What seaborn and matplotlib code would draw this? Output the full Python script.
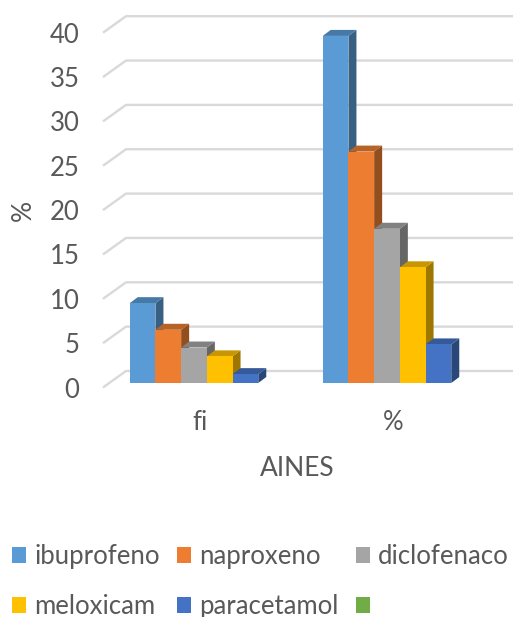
import matplotlib
matplotlib.use("Agg")
import matplotlib.pyplot as plt
import seaborn as sns
import pandas as pd
import numpy as np
from matplotlib.patches import Polygon, Patch
from matplotlib.colors import to_rgb

# ---- data -------------------------------------------------------------
categories = ["fi", "%"]
farmacos = ["ibuprofeno", "naproxeno", "diclofenaco", "meloxicam", "paracetamol"]
fi_values = [9, 6, 4, 3, 1]
pct_values = [39.13, 26.09, 17.39, 13.04, 4.35]
colors = ["#5B9BD5", "#ED7D31", "#A5A5A5", "#FFC000", "#4472C4"]
legend_labels = farmacos + [""]
legend_colors = colors + ["#70AD47"]
y_ticks = [0, 5, 10, 15, 20, 25, 30, 35, 40]
x_title = "AINES"
y_title = "%"

df = pd.DataFrame({
    "categoria": np.repeat(categories, len(farmacos)),
    "farmaco": farmacos * len(categories),
    "valor": fi_values + pct_values,
})

sns.set_theme(style="white")
plt.rcParams["font.family"] = ["Lato", "DejaVu Sans"]
TEXT = "#595959"
GRID = "#D9D9D9"
FS = 18.5

# ---- layout (pixels) ----------------------------------------------------
W, H = 513, 617
fig = plt.figure(figsize=(W / 100, H / 100), dpi=100)

PX_PER_UNIT = 8.87          # vertical scale
ZERO_PX = 383               # y pixel (from top) of value 0 on the bar faces
YMIN, YMAX = -1.0, 41.0
ax_left_px, ax_right_px = 103, 513
bottom_px = ZERO_PX - YMIN * PX_PER_UNIT
top_px = ZERO_PX - YMAX * PX_PER_UNIT
ax = fig.add_axes([ax_left_px / W, (H - bottom_px) / H,
                   (ax_right_px - ax_left_px) / W, (bottom_px - top_px) / H])

GROUP_PX = 193              # distance between category centres
FIRST_CENTER_PX = 194
x0_lim = -(FIRST_CENTER_PX - ax_left_px) / GROUP_PX
x1_lim = x0_lim + (ax_right_px - ax_left_px) / GROUP_PX

sns.barplot(data=df, x="categoria", y="valor", hue="farmaco",
            order=categories, hue_order=farmacos, palette=colors,
            width=0.666, saturation=1, errorbar=None, legend=False,
            linewidth=0, ax=ax)

ax.set_xlim(x0_lim, x1_lim)
ax.set_ylim(YMIN, YMAX)
px_x = (x1_lim - x0_lim) / (ax_right_px - ax_left_px)
px_y = 1.0 / PX_PER_UNIT

# ---- back wall gridlines with oblique floor ends ----------------------
BACK_DX, BACK_UP, FRONT_DOWN = 23, 12, 4.5
for v in y_ticks:
    xb = x0_lim + BACK_DX * px_x
    yb = v + BACK_UP * px_y
    yf = v - FRONT_DOWN * px_y
    ax.plot([x0_lim, xb, x1_lim], [yf, yb, yb], color=GRID, lw=1.7,
            solid_capstyle="butt", clip_on=False, zorder=1)

# ---- 3D depth faces for each bar -------------------------------------
DEPTH_DX, DEPTH_DY = 8, 6
ddx, ddy = DEPTH_DX * px_x, DEPTH_DY * px_y
bars = sorted([p for p in ax.patches if p.get_height() > 0], key=lambda p: p.get_x())
for i, p in enumerate(bars):
    bx, bw, bh = p.get_x(), p.get_width(), p.get_height()
    base = np.array(to_rgb(p.get_facecolor()))
    side = Polygon([(bx + bw, 0), (bx + bw, bh), (bx + bw + ddx, bh + ddy), (bx + bw + ddx, ddy)],
                   closed=True, facecolor=base * 0.62, edgecolor="none", zorder=3 + 3 * i)
    top = Polygon([(bx, bh), (bx + bw, bh), (bx + bw + ddx, bh + ddy), (bx + ddx, bh + ddy)],
                  closed=True, facecolor=base * 0.78, edgecolor="none", zorder=4 + 3 * i)
    ax.add_patch(side)
    ax.add_patch(top)
    p.set_zorder(5 + 3 * i)
    p.set_clip_on(False)
    side.set_clip_on(False)
    top.set_clip_on(False)

# ---- axes, ticks and titles --------------------------------------------
for s in ax.spines.values():
    s.set_visible(False)
ax.set_yticks([])
ax.set_xticks([])

yoff = FRONT_DOWN * px_y
sec_y = ax.secondary_yaxis("left", functions=(lambda y: y + yoff, lambda y: y - yoff))
sec_y.set_yticks(y_ticks)
sec_y.tick_params(length=0, pad=17, labelsize=FS, labelcolor=TEXT)
for s in sec_y.spines.values():
    s.set_visible(False)

xoff = 6 * px_x
sec_x = ax.secondary_xaxis("bottom", functions=(lambda x: x - xoff, lambda x: x + xoff))
sec_x.set_xticks(range(len(categories)))
sec_x.set_xticklabels(categories)
sec_x.tick_params(length=0, pad=13, labelsize=FS, labelcolor=TEXT)
for s in sec_x.spines.values():
    s.set_visible(False)

ax.set_xlabel(x_title, fontsize=19, color=TEXT)
ax.xaxis.set_label_coords((297 - ax_left_px) / (ax_right_px - ax_left_px),
                          (bottom_px - 468) / (bottom_px - top_px))
ax.xaxis.label.set_va("center")
ax.set_ylabel(y_title, fontsize=19, color=TEXT)
ax.yaxis.set_label_coords((23 - ax_left_px) / (ax_right_px - ax_left_px),
                          (bottom_px - 210) / (bottom_px - top_px))
ax.yaxis.label.set_va("center")

# ---- legend (row-major order over three columns) ------------------------
handles = [Patch(facecolor=c, edgecolor="none") for c in legend_colors]
order = [0, 3, 1, 4, 2, 5]
leg = fig.legend([handles[k] for k in order], [legend_labels[k] for k in order],
                 ncol=3, loc="upper left", bbox_to_anchor=(12 / W, (H - 544) / H),
                 frameon=False, fontsize=FS, handlelength=0.56, handleheight=0.56,
                 handletextpad=0.3, columnspacing=0.68, labelspacing=0.98,
                 borderpad=0, borderaxespad=0)
for t in leg.get_texts():
    t.set_color(TEXT)

fig.savefig("out.png", dpi=100)
